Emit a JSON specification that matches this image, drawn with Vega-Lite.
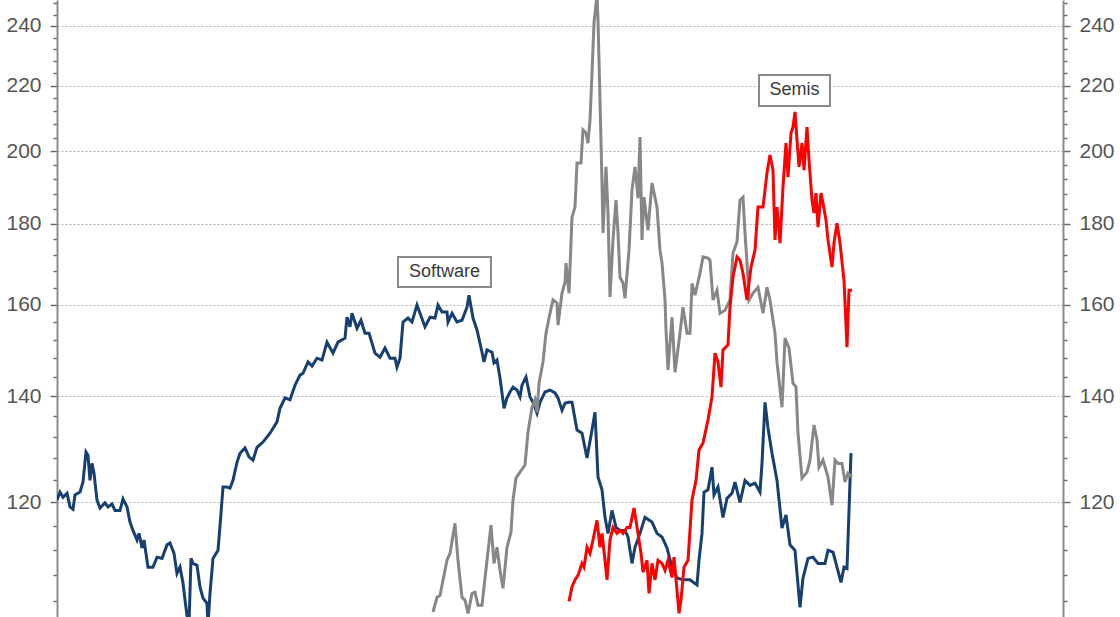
{
  "$schema": "https://vega.github.io/schema/vega-lite/v6.json",
  "description": "Software vs Semis index, log scale, with an unlabelled grey series.",
  "width": 1006,
  "height": 617,
  "autosize": {"type": "none"},
  "padding": {"left": 57, "right": 57, "top": 0, "bottom": 0},
  "background": "white",
  "datasets": {
    "software": [
      {"t": 0, "v": 120.4}, {"t": 3, "v": 121.8}, {"t": 6, "v": 120.9}, {"t": 10, "v": 121.6}, {"t": 13, "v": 119.2},
      {"t": 16, "v": 118.8}, {"t": 18, "v": 121.3}, {"t": 23, "v": 121.8}, {"t": 26, "v": 123.6}, {"t": 29, "v": 129.1},
      {"t": 31, "v": 128.5}, {"t": 33, "v": 123.9}, {"t": 35, "v": 127.0}, {"t": 37, "v": 125.2}, {"t": 40, "v": 120.4},
      {"t": 43, "v": 119.0}, {"t": 48, "v": 119.9}, {"t": 51, "v": 119.2}, {"t": 55, "v": 119.7}, {"t": 58, "v": 118.6},
      {"t": 63, "v": 118.6}, {"t": 66, "v": 120.6}, {"t": 70, "v": 119.2}, {"t": 73, "v": 116.6}, {"t": 76, "v": 115.2},
      {"t": 80, "v": 113.6}, {"t": 82, "v": 114.7}, {"t": 85, "v": 112.3}, {"t": 87, "v": 113.6}, {"t": 91, "v": 109.2},
      {"t": 96, "v": 109.2}, {"t": 100, "v": 110.8}, {"t": 105, "v": 110.6}, {"t": 110, "v": 112.8}, {"t": 113, "v": 113.1},
      {"t": 117, "v": 111.4}, {"t": 120, "v": 108.2}, {"t": 123, "v": 109.2}, {"t": 126, "v": 106.7}, {"t": 128, "v": 104.1},
      {"t": 130, "v": 101.8}, {"t": 132, "v": 100.4}, {"t": 134, "v": 110.6}, {"t": 136, "v": 109.8}, {"t": 140, "v": 109.5},
      {"t": 143, "v": 106.1}, {"t": 146, "v": 104.4}, {"t": 150, "v": 103.6}, {"t": 151, "v": 100.4}, {"t": 153, "v": 105.1},
      {"t": 156, "v": 110.6}, {"t": 161, "v": 111.9}, {"t": 164, "v": 118.1}, {"t": 166, "v": 122.7}, {"t": 170, "v": 122.7},
      {"t": 173, "v": 122.5}, {"t": 176, "v": 123.9}, {"t": 180, "v": 127.2}, {"t": 183, "v": 128.9}, {"t": 188, "v": 129.9},
      {"t": 192, "v": 128.2}, {"t": 196, "v": 127.6}, {"t": 200, "v": 130.0}, {"t": 206, "v": 131.0}, {"t": 213, "v": 132.7},
      {"t": 220, "v": 134.9}, {"t": 223, "v": 137.6}, {"t": 228, "v": 139.7}, {"t": 233, "v": 139.3}, {"t": 238, "v": 142.3},
      {"t": 243, "v": 144.4}, {"t": 246, "v": 144.8}, {"t": 251, "v": 147.2}, {"t": 255, "v": 146.3}, {"t": 260, "v": 148.0},
      {"t": 265, "v": 147.6}, {"t": 270, "v": 151.5}, {"t": 276, "v": 149.1}, {"t": 281, "v": 151.5}, {"t": 288, "v": 152.4},
      {"t": 290, "v": 157.1}, {"t": 293, "v": 154.9}, {"t": 295, "v": 158.0}, {"t": 300, "v": 154.6}, {"t": 304, "v": 156.4},
      {"t": 308, "v": 153.5}, {"t": 312, "v": 153.5}, {"t": 318, "v": 149.1}, {"t": 323, "v": 148.2}, {"t": 328, "v": 150.2},
      {"t": 333, "v": 148.0}, {"t": 338, "v": 148.0}, {"t": 340, "v": 146.1}, {"t": 343, "v": 148.0}, {"t": 346, "v": 156.0},
      {"t": 351, "v": 156.9}, {"t": 355, "v": 156.0}, {"t": 360, "v": 159.9}, {"t": 363, "v": 158.0}, {"t": 368, "v": 154.9},
      {"t": 373, "v": 157.1}, {"t": 378, "v": 156.9}, {"t": 381, "v": 159.9}, {"t": 385, "v": 158.3}, {"t": 390, "v": 158.3},
      {"t": 391, "v": 156.0}, {"t": 395, "v": 158.0}, {"t": 400, "v": 156.0}, {"t": 405, "v": 156.4}, {"t": 410, "v": 159.4},
      {"t": 412, "v": 162.2}, {"t": 416, "v": 156.9}, {"t": 420, "v": 154.2}, {"t": 425, "v": 149.3}, {"t": 427, "v": 147.2},
      {"t": 430, "v": 149.8}, {"t": 435, "v": 149.3}, {"t": 437, "v": 147.0}, {"t": 440, "v": 147.6}, {"t": 443, "v": 143.8},
      {"t": 447, "v": 137.6}, {"t": 450, "v": 139.7}, {"t": 453, "v": 140.9}, {"t": 456, "v": 141.9}, {"t": 460, "v": 141.3},
      {"t": 463, "v": 139.9}, {"t": 465, "v": 142.3}, {"t": 469, "v": 144.0}, {"t": 473, "v": 139.9}, {"t": 476, "v": 138.8},
      {"t": 480, "v": 136.6}, {"t": 483, "v": 138.8}, {"t": 488, "v": 140.9}, {"t": 493, "v": 141.3}, {"t": 498, "v": 140.7},
      {"t": 501, "v": 139.7}, {"t": 505, "v": 137.2}, {"t": 508, "v": 138.6}, {"t": 511, "v": 138.8}, {"t": 515, "v": 138.8},
      {"t": 520, "v": 133.3}, {"t": 525, "v": 132.7}, {"t": 530, "v": 128.0}, {"t": 535, "v": 133.3}, {"t": 538, "v": 136.8},
      {"t": 541, "v": 124.5}, {"t": 545, "v": 122.2}, {"t": 548, "v": 117.4}, {"t": 551, "v": 114.7}, {"t": 555, "v": 118.6},
      {"t": 559, "v": 115.7}, {"t": 563, "v": 115.2}, {"t": 568, "v": 115.2}, {"t": 571, "v": 114.1}, {"t": 575, "v": 109.8},
      {"t": 578, "v": 112.4}, {"t": 583, "v": 114.7}, {"t": 588, "v": 117.4}, {"t": 595, "v": 116.6}, {"t": 600, "v": 114.7},
      {"t": 605, "v": 114.1}, {"t": 610, "v": 112.3}, {"t": 615, "v": 109.2}, {"t": 620, "v": 107.5}, {"t": 626, "v": 107.2},
      {"t": 633, "v": 107.2}, {"t": 640, "v": 106.4}, {"t": 642, "v": 110.3}, {"t": 645, "v": 114.7}, {"t": 647, "v": 121.8},
      {"t": 651, "v": 122.2}, {"t": 655, "v": 126.3}, {"t": 657, "v": 121.3}, {"t": 661, "v": 122.7}, {"t": 666, "v": 117.4},
      {"t": 670, "v": 120.7}, {"t": 675, "v": 121.6}, {"t": 678, "v": 123.6}, {"t": 683, "v": 120.0}, {"t": 688, "v": 123.9},
      {"t": 693, "v": 123.0}, {"t": 698, "v": 123.4}, {"t": 703, "v": 121.8}, {"t": 705, "v": 127.0}, {"t": 708, "v": 138.8},
      {"t": 711, "v": 133.7}, {"t": 715, "v": 128.9}, {"t": 720, "v": 123.9}, {"t": 725, "v": 115.6}, {"t": 729, "v": 117.8},
      {"t": 733, "v": 112.8}, {"t": 738, "v": 111.9}, {"t": 743, "v": 103.0}, {"t": 746, "v": 107.5}, {"t": 751, "v": 110.6},
      {"t": 756, "v": 110.8}, {"t": 761, "v": 109.8}, {"t": 768, "v": 109.8}, {"t": 771, "v": 111.9}, {"t": 776, "v": 111.6},
      {"t": 780, "v": 109.2}, {"t": 784, "v": 106.8}, {"t": 787, "v": 109.2}, {"t": 790, "v": 109.0}, {"t": 794, "v": 128.9}
    ],
    "other": [
      {"t": 376, "v": 102.3}, {"t": 380, "v": 104.5}, {"t": 383, "v": 104.8}, {"t": 390, "v": 110.3}, {"t": 393, "v": 111.4},
      {"t": 398, "v": 116.4}, {"t": 401, "v": 110.3}, {"t": 405, "v": 104.5}, {"t": 408, "v": 104.1}, {"t": 411, "v": 102.1},
      {"t": 415, "v": 105.1}, {"t": 418, "v": 105.3}, {"t": 421, "v": 103.3}, {"t": 425, "v": 103.3}, {"t": 430, "v": 110.3},
      {"t": 434, "v": 116.1}, {"t": 437, "v": 109.8}, {"t": 440, "v": 112.4}, {"t": 443, "v": 108.7}, {"t": 446, "v": 105.9},
      {"t": 450, "v": 112.4}, {"t": 454, "v": 114.9}, {"t": 456, "v": 120.4}, {"t": 459, "v": 124.3}, {"t": 463, "v": 125.4},
      {"t": 468, "v": 126.7}, {"t": 471, "v": 132.9}, {"t": 475, "v": 137.8}, {"t": 478, "v": 139.3}, {"t": 480, "v": 136.8},
      {"t": 482, "v": 142.7}, {"t": 486, "v": 147.2}, {"t": 489, "v": 153.5}, {"t": 493, "v": 158.0}, {"t": 496, "v": 161.1},
      {"t": 500, "v": 160.4}, {"t": 501, "v": 155.3}, {"t": 505, "v": 162.7}, {"t": 508, "v": 165.3}, {"t": 509, "v": 170.0},
      {"t": 512, "v": 162.7}, {"t": 515, "v": 181.7}, {"t": 518, "v": 184.4}, {"t": 520, "v": 196.6}, {"t": 524, "v": 196.6},
      {"t": 526, "v": 206.3}, {"t": 529, "v": 205.4}, {"t": 531, "v": 202.4}, {"t": 533, "v": 209.3}, {"t": 535, "v": 224.1},
      {"t": 537, "v": 241.1}, {"t": 540, "v": 251.1}, {"t": 541, "v": 242.1}, {"t": 543, "v": 215.5}, {"t": 545, "v": 191.0},
      {"t": 546, "v": 177.6}, {"t": 549, "v": 195.5}, {"t": 551, "v": 182.8}, {"t": 553, "v": 161.8}, {"t": 556, "v": 175.8},
      {"t": 559, "v": 186.3}, {"t": 561, "v": 177.6}, {"t": 563, "v": 166.5}, {"t": 566, "v": 165.1}, {"t": 568, "v": 161.5},
      {"t": 572, "v": 173.2}, {"t": 575, "v": 189.0}, {"t": 578, "v": 195.5}, {"t": 581, "v": 186.8}, {"t": 583, "v": 204.2},
      {"t": 585, "v": 175.8}, {"t": 587, "v": 187.1}, {"t": 591, "v": 178.3}, {"t": 595, "v": 191.0}, {"t": 600, "v": 184.4},
      {"t": 603, "v": 173.2}, {"t": 605, "v": 170.0}, {"t": 608, "v": 161.1}, {"t": 609, "v": 154.2}, {"t": 611, "v": 145.5},
      {"t": 615, "v": 157.1}, {"t": 618, "v": 145.0}, {"t": 623, "v": 153.5}, {"t": 626, "v": 159.4}, {"t": 630, "v": 153.5},
      {"t": 633, "v": 153.5}, {"t": 635, "v": 165.0}, {"t": 638, "v": 162.2}, {"t": 643, "v": 167.5}, {"t": 646, "v": 171.5},
      {"t": 651, "v": 171.2}, {"t": 653, "v": 170.7}, {"t": 656, "v": 161.1}, {"t": 660, "v": 163.4}, {"t": 663, "v": 158.0},
      {"t": 668, "v": 158.7}, {"t": 673, "v": 161.1}, {"t": 676, "v": 172.5}, {"t": 680, "v": 175.3}, {"t": 683, "v": 186.3},
      {"t": 686, "v": 187.1}, {"t": 688, "v": 177.6}, {"t": 690, "v": 170.0}, {"t": 692, "v": 161.1}, {"t": 696, "v": 162.7},
      {"t": 701, "v": 164.1}, {"t": 706, "v": 158.0}, {"t": 710, "v": 164.1}, {"t": 713, "v": 161.1}, {"t": 716, "v": 156.4},
      {"t": 718, "v": 153.5}, {"t": 720, "v": 147.2}, {"t": 725, "v": 137.8}, {"t": 728, "v": 152.4}, {"t": 732, "v": 150.2},
      {"t": 736, "v": 142.7}, {"t": 739, "v": 141.9}, {"t": 741, "v": 132.7}, {"t": 745, "v": 124.3}, {"t": 750, "v": 125.4},
      {"t": 753, "v": 127.6}, {"t": 757, "v": 134.3}, {"t": 760, "v": 131.4}, {"t": 762, "v": 126.3}, {"t": 766, "v": 127.6},
      {"t": 771, "v": 124.5}, {"t": 775, "v": 119.5}, {"t": 778, "v": 127.6}, {"t": 781, "v": 127.0}, {"t": 785, "v": 127.0},
      {"t": 788, "v": 123.6}, {"t": 791, "v": 125.2}, {"t": 795, "v": 124.5}
    ],
    "semis": [
      {"t": 512, "v": 103.9}, {"t": 515, "v": 106.1}, {"t": 518, "v": 107.2}, {"t": 521, "v": 107.9}, {"t": 525, "v": 109.8},
      {"t": 527, "v": 109.2}, {"t": 530, "v": 112.4}, {"t": 533, "v": 111.4}, {"t": 536, "v": 113.6}, {"t": 540, "v": 116.9},
      {"t": 543, "v": 112.4}, {"t": 545, "v": 114.7}, {"t": 548, "v": 110.3}, {"t": 550, "v": 107.2}, {"t": 553, "v": 113.6},
      {"t": 556, "v": 115.7}, {"t": 560, "v": 114.7}, {"t": 563, "v": 115.2}, {"t": 566, "v": 114.7}, {"t": 570, "v": 115.7},
      {"t": 573, "v": 115.7}, {"t": 577, "v": 119.0}, {"t": 581, "v": 114.7}, {"t": 584, "v": 111.4}, {"t": 586, "v": 108.4},
      {"t": 590, "v": 110.3}, {"t": 592, "v": 105.1}, {"t": 595, "v": 109.8}, {"t": 598, "v": 107.2}, {"t": 601, "v": 110.3},
      {"t": 605, "v": 109.8}, {"t": 608, "v": 108.7}, {"t": 611, "v": 110.3}, {"t": 615, "v": 107.6}, {"t": 617, "v": 110.8},
      {"t": 620, "v": 105.6}, {"t": 622, "v": 102.1}, {"t": 624, "v": 104.1}, {"t": 627, "v": 109.2}, {"t": 631, "v": 110.3},
      {"t": 635, "v": 120.4}, {"t": 639, "v": 123.9}, {"t": 642, "v": 129.5}, {"t": 646, "v": 130.8}, {"t": 651, "v": 135.3},
      {"t": 655, "v": 139.9}, {"t": 658, "v": 149.1}, {"t": 661, "v": 147.2}, {"t": 664, "v": 141.9}, {"t": 666, "v": 149.8},
      {"t": 671, "v": 150.9}, {"t": 673, "v": 159.4}, {"t": 676, "v": 166.5}, {"t": 680, "v": 171.5}, {"t": 683, "v": 170.7},
      {"t": 686, "v": 167.5}, {"t": 690, "v": 161.1}, {"t": 694, "v": 169.0}, {"t": 698, "v": 173.2}, {"t": 701, "v": 184.4},
      {"t": 706, "v": 184.4}, {"t": 710, "v": 193.8}, {"t": 713, "v": 198.9}, {"t": 716, "v": 194.6}, {"t": 718, "v": 175.8},
      {"t": 720, "v": 184.4}, {"t": 723, "v": 175.0}, {"t": 726, "v": 189.9}, {"t": 729, "v": 202.4}, {"t": 731, "v": 192.6},
      {"t": 734, "v": 205.4}, {"t": 736, "v": 207.2}, {"t": 738, "v": 211.8}, {"t": 740, "v": 203.3}, {"t": 742, "v": 195.5},
      {"t": 745, "v": 202.4}, {"t": 747, "v": 194.6}, {"t": 750, "v": 207.2}, {"t": 752, "v": 197.5}, {"t": 755, "v": 186.3},
      {"t": 757, "v": 182.8}, {"t": 759, "v": 188.2}, {"t": 761, "v": 179.1}, {"t": 764, "v": 188.2}, {"t": 766, "v": 185.5},
      {"t": 769, "v": 181.0}, {"t": 771, "v": 175.8}, {"t": 775, "v": 169.0}, {"t": 777, "v": 175.0}, {"t": 780, "v": 180.1},
      {"t": 783, "v": 175.0}, {"t": 787, "v": 165.8}, {"t": 790, "v": 150.4}, {"t": 792, "v": 163.4}, {"t": 795, "v": 163.4}
    ],
    "labels": [
      {"label": "Software", "t": 387.5, "v": 167.8},
      {"label": "Semis", "t": 737.5, "v": 218.5}
    ]
  },
  "layer": [
    {
      "data": {"name": "software"},
      "mark": {"type": "line", "color": "#173f70", "strokeWidth": 3, "clip": true},
      "encoding": {
        "x": {
          "field": "t", "type": "quantitative",
          "scale": {"domain": [0, 1006], "nice": false, "zero": false},
          "axis": {"orient": "bottom", "values": [503], "grid": true, "labels": false, "ticks": false, "domain": false, "title": null}
        },
        "y": {
          "field": "v", "type": "quantitative",
          "scale": {"type": "log", "domain": [101.56, 249.25], "nice": false},
          "axis": {
            "orient": "left", "title": null,
            "values": [104, 108, 112, 116, 120, 124, 128, 132, 136, 140, 144, 148, 152, 156, 160, 164, 168, 172, 176, 180, 184, 188, 192, 196, 200, 204, 208, 212, 216, 220, 224, 228, 232, 236, 240, 244, 248],
            "labelExpr": "datum.value % 20 === 0 ? '' + datum.value : ''",
            "labelOverlap": false,
            "tickSize": {"condition": {"test": "datum.value % 20 === 0", "value": 7}, "value": 4},
            "gridOpacity": {"condition": {"test": "datum.value % 20 === 0", "value": 1}, "value": 0}
          }
        }
      }
    },
    {
      "data": {"name": "other"},
      "mark": {"type": "line", "color": "#878787", "strokeWidth": 3, "clip": true},
      "encoding": {
        "x": {"field": "t", "type": "quantitative", "axis": null},
        "y": {"field": "v", "type": "quantitative", "axis": null}
      }
    },
    {
      "data": {"name": "semis"},
      "mark": {"type": "line", "color": "#ff0000", "strokeWidth": 3, "clip": true},
      "encoding": {
        "x": {"field": "t", "type": "quantitative", "axis": null},
        "y": {"field": "v", "type": "quantitative", "axis": null}
      }
    },
    {
      "data": {"name": "labels"},
      "mark": {"type": "point", "filled": true, "fill": "white", "stroke": "#8a8a8a", "strokeWidth": 2, "opacity": 1, "size": 8649},
      "encoding": {
        "x": {"field": "t", "type": "quantitative", "axis": null},
        "y": {
          "field": "v", "type": "quantitative",
          "axis": {
            "orient": "right", "title": null,
            "values": [104, 108, 112, 116, 120, 124, 128, 132, 136, 140, 144, 148, 152, 156, 160, 164, 168, 172, 176, 180, 184, 188, 192, 196, 200, 204, 208, 212, 216, 220, 224, 228, 232, 236, 240, 244, 248],
            "labelExpr": "datum.value % 20 === 0 ? '' + datum.value : ''",
            "labelOverlap": false,
            "grid": false,
            "tickSize": {"condition": {"test": "datum.value % 20 === 0", "value": 7}, "value": 4}
          }
        },
        "shape": {
          "field": "label", "type": "nominal", "legend": null,
          "scale": {
            "domain": ["Software", "Semis"],
            "range": ["M-1,-0.3226L1,-0.3226L1,0.3226L-1,0.3226Z", "M-0.763,-0.333L0.763,-0.333L0.763,0.333L-0.763,0.333Z"]
          }
        }
      }
    },
    {
      "data": {"name": "labels"},
      "mark": {"type": "text", "font": "Liberation Sans", "fontSize": 18, "color": "#3a3a3a", "baseline": "middle", "align": "center"},
      "encoding": {
        "x": {"field": "t", "type": "quantitative", "axis": null},
        "y": {"field": "v", "type": "quantitative", "axis": null},
        "text": {"field": "label"}
      }
    }
  ],
  "resolve": {"axis": {"y": "independent"}},
  "config": {
    "view": {"stroke": null},
    "axis": {
      "gridColor": "#b4b4b4",
      "gridDash": [2, 2],
      "gridWidth": 1,
      "domainColor": "#8c8c8c",
      "domainWidth": 2,
      "tickColor": "#6e6e6e",
      "tickWidth": 1.5,
      "labelFont": "Liberation Sans",
      "labelFontSize": 21,
      "labelColor": "#555555",
      "labelPadding": 9
    }
  }
}
